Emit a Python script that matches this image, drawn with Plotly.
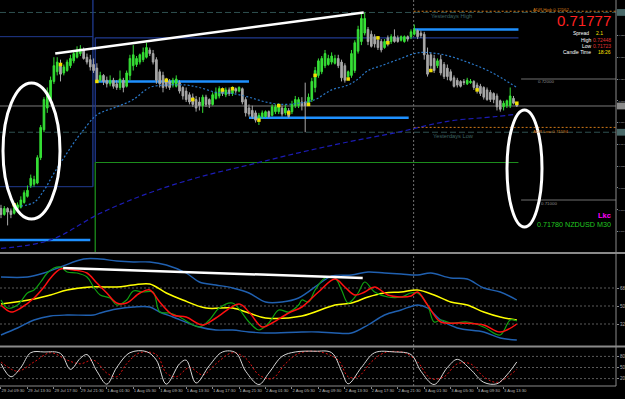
import plotly.graph_objects as go

# ---------------- data ----------------
tick_labels = ["29 Jul 09:30", "29 Jul 13:30", "29 Jul 17:30", "29 Jul 21:30", "1 Aug 01:30",
               "1 Aug 05:30", "1 Aug 09:30", "1 Aug 13:30", "1 Aug 17:30", "1 Aug 21:30",
               "2 Aug 01:30", "2 Aug 05:30", "2 Aug 09:30", "2 Aug 13:30", "2 Aug 17:30",
               "2 Aug 21:30", "3 Aug 01:30", "3 Aug 05:30", "3 Aug 09:30", "3 Aug 13:30"]
tick_bars = [0, 8, 16, 24, 32, 40, 48, 56, 64, 72, 80, 88, 96, 104, 112, 120, 128, 136, 144, 152]

opens = [0.7093, 0.7088, 0.7093, 0.7091, 0.7089, 0.7093, 0.7094, 0.7098, 0.7103, 0.7112,
         0.7113, 0.7114, 0.7135, 0.7158, 0.7176, 0.7183, 0.7198, 0.7206, 0.7212, 0.7205,
         0.7207, 0.7211, 0.7215, 0.7218, 0.7221, 0.7224, 0.7218, 0.7216, 0.7212, 0.7209,
         0.7199, 0.7203, 0.7199, 0.7196, 0.7199, 0.7196, 0.7193, 0.7199, 0.7194, 0.7203,
         0.7211, 0.7212, 0.7214, 0.7216, 0.7218, 0.7224, 0.7221, 0.7216, 0.7206, 0.7203,
         0.7199, 0.7198, 0.7195, 0.7194, 0.7197, 0.7193, 0.7190, 0.7187, 0.7185, 0.7183,
         0.7181, 0.7178, 0.7185, 0.7183, 0.7179, 0.7184, 0.7186, 0.7191, 0.7187, 0.7191,
         0.7188, 0.7192, 0.7190, 0.7192, 0.7183, 0.7176, 0.7174, 0.7172, 0.7167, 0.7169,
         0.7169, 0.7173, 0.7170, 0.7173, 0.7173, 0.7176, 0.7172, 0.7174, 0.7173, 0.7178,
         0.7178, 0.7181, 0.7181, 0.7179, 0.7183, 0.7193, 0.7203, 0.7206, 0.7211, 0.7212,
         0.7214, 0.7213, 0.7217, 0.7214, 0.7211, 0.7202, 0.7203, 0.7207, 0.7223, 0.7231,
         0.7238, 0.7241, 0.7237, 0.7235, 0.7232, 0.7231, 0.7226, 0.7234, 0.7231, 0.7235,
         0.7234, 0.7232, 0.7231, 0.7235, 0.7235, 0.7237, 0.7240, 0.7238, 0.7237, 0.7220,
         0.7220, 0.7217, 0.7211, 0.7216, 0.7212, 0.7209, 0.7206, 0.7201, 0.7199, 0.7198,
         0.7198, 0.7196, 0.7197, 0.7198, 0.7195, 0.7194, 0.7193, 0.7191, 0.7189, 0.7188,
         0.7186, 0.7182, 0.7177, 0.7178, 0.7178, 0.7184, 0.7180]
highs = [0.7096, 0.7095, 0.7094, 0.7093, 0.7097, 0.7098, 0.7103, 0.7108, 0.7112, 0.7121,
         0.7120, 0.7137, 0.7162, 0.7185, 0.7193, 0.7202, 0.7218, 0.7218, 0.7216, 0.7212,
         0.7216, 0.7220, 0.7224, 0.7227, 0.7228, 0.7226, 0.7221, 0.7220, 0.7217, 0.7213,
         0.7206, 0.7204, 0.7202, 0.7203, 0.7201, 0.7199, 0.7207, 0.7201, 0.7207, 0.7220,
         0.7228, 0.7219, 0.7221, 0.7226, 0.7230, 0.7226, 0.7224, 0.7218, 0.7208, 0.7206,
         0.7201, 0.7200, 0.7201, 0.7203, 0.7199, 0.7194, 0.7193, 0.7189, 0.7188, 0.7186,
         0.7185, 0.7187, 0.7187, 0.7184, 0.7189, 0.7193, 0.7194, 0.7193, 0.7193, 0.7193,
         0.7194, 0.7193, 0.7194, 0.7193, 0.7185, 0.7179, 0.7178, 0.7174, 0.7172, 0.7174,
         0.7174, 0.7174, 0.7179, 0.7179, 0.7180, 0.7178, 0.7179, 0.7176, 0.7182, 0.7186,
         0.7185, 0.7185, 0.7197, 0.7188, 0.7201, 0.7210, 0.7217, 0.7219, 0.7224, 0.7220,
         0.7222, 0.7220, 0.7220, 0.7216, 0.7213, 0.7207, 0.7224, 0.7232, 0.7244, 0.7254,
         0.7255, 0.7243, 0.7240, 0.7237, 0.7235, 0.7233, 0.7233, 0.7236, 0.7237, 0.7241,
         0.7236, 0.7236, 0.7236, 0.7236, 0.7241, 0.7245, 0.7241, 0.7240, 0.7239, 0.7226,
         0.7222, 0.7220, 0.7217, 0.7220, 0.7214, 0.7212, 0.7208, 0.7203, 0.7201, 0.7199,
         0.7200, 0.7201, 0.7200, 0.7199, 0.7197, 0.7196, 0.7194, 0.7193, 0.7191, 0.7189,
         0.7188, 0.7183, 0.7182, 0.7183, 0.7193, 0.7186, 0.7181]
lows = [0.7085, 0.7087, 0.7079, 0.7085, 0.7088, 0.7091, 0.7093, 0.7097, 0.7102, 0.7110,
        0.7111, 0.7113, 0.7133, 0.7156, 0.7172, 0.7180, 0.7196, 0.7203, 0.7198, 0.7203,
        0.7206, 0.7209, 0.7213, 0.7217, 0.7219, 0.7216, 0.7212, 0.7207, 0.7205, 0.7197,
        0.7198, 0.7195, 0.7193, 0.7194, 0.7192, 0.7191, 0.7191, 0.7189, 0.7193, 0.7199,
        0.7207, 0.7210, 0.7212, 0.7214, 0.7217, 0.7219, 0.7212, 0.7196, 0.7193, 0.7189,
        0.7192, 0.7191, 0.7193, 0.7193, 0.7188, 0.7183, 0.7181, 0.7179, 0.7177, 0.7173,
        0.7174, 0.7172, 0.7177, 0.7176, 0.7178, 0.7183, 0.7184, 0.7186, 0.7185, 0.7186,
        0.7186, 0.7188, 0.7189, 0.7179, 0.7169, 0.7169, 0.7167, 0.7164, 0.7162, 0.7167,
        0.7168, 0.7168, 0.7169, 0.7171, 0.7171, 0.7169, 0.7170, 0.7168, 0.7171, 0.7176,
        0.7176, 0.7174, 0.7156, 0.7178, 0.7181, 0.7189, 0.7201, 0.7204, 0.7209, 0.7211,
        0.7212, 0.7212, 0.7209, 0.7198, 0.7197, 0.7199, 0.7201, 0.7205, 0.7221, 0.7228,
        0.7236, 0.7228, 0.7226, 0.7226, 0.7224, 0.7222, 0.7225, 0.7227, 0.7229, 0.7230,
        0.7230, 0.7231, 0.7230, 0.7231, 0.7233, 0.7236, 0.7233, 0.7234, 0.7216, 0.7202,
        0.7207, 0.7205, 0.7209, 0.7203, 0.7200, 0.7199, 0.7198, 0.7193, 0.7193, 0.7193,
        0.7195, 0.7195, 0.7196, 0.7191, 0.7188, 0.7186, 0.7183, 0.7182, 0.7181, 0.7180,
        0.7174, 0.7173, 0.7174, 0.7176, 0.7176, 0.7179, 0.7177]
closes = [0.7088, 0.7093, 0.7090, 0.7088, 0.7094, 0.7096, 0.7100, 0.7106, 0.7108, 0.7118,
          0.7117, 0.7135, 0.7160, 0.7183, 0.7189, 0.7199, 0.7211, 0.7214, 0.7204, 0.7210,
          0.7214, 0.7217, 0.7221, 0.7224, 0.7225, 0.7217, 0.7214, 0.7210, 0.7207, 0.7199,
          0.7203, 0.7198, 0.7196, 0.7199, 0.7194, 0.7193, 0.7200, 0.7193, 0.7205, 0.7217,
          0.7220, 0.7217, 0.7220, 0.7222, 0.7226, 0.7221, 0.7214, 0.7199, 0.7196, 0.7193,
          0.7194, 0.7193, 0.7199, 0.7200, 0.7190, 0.7186, 0.7183, 0.7181, 0.7179, 0.7176,
          0.7178, 0.7185, 0.7179, 0.7179, 0.7187, 0.7189, 0.7192, 0.7188, 0.7191, 0.7188,
          0.7192, 0.7190, 0.7193, 0.7181, 0.7172, 0.7171, 0.7169, 0.7166, 0.7170, 0.7172,
          0.7173, 0.7169, 0.7177, 0.7177, 0.7177, 0.7171, 0.7176, 0.7169, 0.7179, 0.7183,
          0.7183, 0.7178, 0.7178, 0.7185, 0.7198, 0.7207, 0.7215, 0.7217, 0.7221, 0.7217,
          0.7219, 0.7217, 0.7211, 0.7201, 0.7199, 0.7206, 0.7221, 0.7230, 0.7241, 0.7250,
          0.7250, 0.7231, 0.7227, 0.7229, 0.7226, 0.7224, 0.7231, 0.7229, 0.7235, 0.7231,
          0.7231, 0.7235, 0.7235, 0.7233, 0.7239, 0.7241, 0.7235, 0.7236, 0.7220, 0.7204,
          0.7211, 0.7207, 0.7215, 0.7205, 0.7202, 0.7202, 0.7199, 0.7194, 0.7195, 0.7194,
          0.7197, 0.7199, 0.7198, 0.7193, 0.7191, 0.7188, 0.7185, 0.7183, 0.7183, 0.7183,
          0.7177, 0.7175, 0.7180, 0.7182, 0.7186, 0.7180, 0.71777]

fractal_bars = [4, 18, 29, 50, 58, 67, 70, 78, 84, 87, 93, 95, 105, 114, 117, 130, 144, 156]
fractal_prices = [0.7096, 0.7212, 0.7198, 0.7199, 0.7183, 0.7191, 0.7192, 0.7166, 0.7178, 0.7172,
                  0.7179, 0.7203, 0.7200, 0.7234, 0.7230, 0.7207, 0.7191, 0.7180]

ma_fast_bars = [6, 10, 13, 16, 20, 23, 25, 28, 30, 35, 40, 45, 50, 56, 60, 65, 70, 75, 80, 85,
                90, 95, 100, 105, 108, 111, 115, 120, 125, 128, 134, 141, 148, 156]
ma_fast = [0.7095, 0.7098, 0.7108, 0.7122, 0.7139, 0.7151, 0.7158, 0.7168, 0.7172, 0.7177,
           0.7183, 0.7193, 0.7195, 0.7195, 0.7193, 0.7189, 0.7188, 0.7185, 0.7181, 0.7179,
           0.7180, 0.7183, 0.7191, 0.7195, 0.7200, 0.7207, 0.7211, 0.7216, 0.7221, 0.7222,
           0.7220, 0.7214, 0.7206, 0.7193]
ma_slow_bars = [0, 15, 30, 45, 60, 75, 90, 105, 120, 135, 150, 156]
ma_slow = [0.7060, 0.7067, 0.7089, 0.7106, 0.7119, 0.7129, 0.7139, 0.7148, 0.7156, 0.7165, 0.7169, 0.7171]

# support / resistance segments (start bar, end bar, price)
sr_start = [-0.3, 28.8, 75.0, 124.8]
sr_end = [27.0, 75.0, 123.3, 156.5]
sr_price = [0.7067, 0.7198, 0.7168, 0.7241]

prev_box_high, prev_box_low = 0.7235, 0.7111
range_high, range_low = 0.7234, 0.7131
bid_price = 0.71777
yest_high, yest_low = 0.7255, 0.7156
adr_high, adr_low = 0.7256, 0.7160
round_levels = [0.7200, 0.7100]
day_start_bar = 124.8
week_start_bar = 28.5
prev_end_bar = 27.8

trend_main_bars = [16.4, 109.7]
trend_main_prices = [0.7221, 0.7255]

tdi_up_bars = [0, 8, 13, 18, 25, 30, 35, 40, 45, 50, 56, 60, 65, 70, 75, 80, 85, 90, 97, 100,
               106, 111, 116, 121, 126, 130, 136, 141, 146, 151, 156]
tdi_up = [79, 79, 83, 89, 97, 97, 95, 94, 94, 91, 83, 74, 71, 68, 63, 54, 54, 58, 74, 80,
          81, 84, 83, 82, 81, 83, 78, 77, 68, 64, 56]
tdi_lo_bars = [0, 5, 10, 15, 20, 28, 30, 35, 40, 45, 48, 52, 60, 65, 70, 75, 80, 91, 96, 101,
               106, 111, 116, 121, 126, 129, 133, 138, 146, 151, 156]
tdi_lo = [21, 28, 36, 40, 41, 41, 43, 47, 49, 49, 44, 39, 29, 26, 26, 24, 23, 24, 24, 23,
          23, 31, 41, 46, 51, 48, 36, 28, 24, 18, 16]
tdi_base_bars = [0, 10, 15, 20, 27, 35, 40, 45, 50, 55, 62, 70, 75, 80, 91, 101, 106, 111, 116,
                 121, 126, 131, 136, 141, 146, 151, 156]
tdi_base = [52, 57, 61, 66, 69, 69, 71, 72, 63, 56, 48, 48, 43, 38, 40, 51, 53, 59, 63,
            64, 66, 61, 54, 51, 44, 39, 36]
tdi_sig_bars = [0, 3, 6, 10, 13, 15, 18, 22, 26, 29, 32, 35, 38, 42, 45, 48, 52, 56, 61, 65,
                72, 75, 79, 82, 87, 91, 96, 101, 104, 107, 110, 113, 117, 121, 124, 126, 129,
                133, 139, 146, 151, 156]
tdi_sig = [51, 44, 48, 58, 69, 78, 87, 86, 83, 73, 63, 53, 53, 63, 66, 54, 41, 39, 31, 38,
           52, 44, 29, 33, 43, 49, 64, 77, 69, 61, 64, 69, 61, 59, 60, 64, 51,
           34, 33, 31, 24, 32]
tdi_rsi_bars = [0, 2, 5, 8, 10, 12, 14, 16, 18, 20, 23, 26, 28, 30, 33, 35, 38, 40, 43, 46,
                48, 51, 54, 60, 63, 66, 70, 75, 78, 81, 84, 87, 90, 91, 93, 95, 98, 101, 103,
                105, 108, 110, 113, 117, 121, 124, 126, 129, 131, 133, 136, 141, 146, 151, 154, 156]
tdi_rsi = [56, 48, 51, 63, 66, 74, 83, 88, 89, 84, 83, 79, 69, 61, 58, 51, 56, 65, 64, 64,
           44, 43, 39, 29, 36, 48, 53, 34, 26, 33, 46, 44, 51, 56, 54, 66, 78, 78, 66,
           53, 63, 74, 64, 59, 59, 63, 63, 51, 34, 36, 33, 34, 29, 21, 36, 35]
tdi_levels = [68, 50, 32]
tdi_trend_bars = [18.8, 109.4]
tdi_trend_vals = [88, 78]

stoch_bars = [0, 3, 6, 9, 13, 18, 21, 24, 26, 29, 32, 35, 39, 44, 47, 50, 54, 56, 59, 63,
              67, 71, 74, 78, 81, 85, 89, 95, 100, 103, 105, 109, 113, 119, 124, 127, 131, 135,
              138, 142, 146, 150, 153, 156]
stoch_main = [60, 25, 50, 90, 92, 88, 45, 75, 85, 40, 5, 50, 90, 93, 70, 5, 60, 70, 8, 55,
              92, 90, 40, 4, 35, 80, 92, 94, 90, 40, 6, 50, 90, 92, 85, 40, 4, 50,
              72, 45, 10, 6, 30, 65]
stoch_sig_bars = [0, 5, 10, 15, 20, 24, 28, 32, 35, 38, 42, 47, 50, 53, 57, 61, 65, 70, 74, 78,
                  82, 86, 90, 96, 102, 105, 108, 112, 116, 122, 126, 130, 134, 138, 142, 146, 150, 156]
stoch_sig = [65, 40, 65, 90, 70, 60, 70, 35, 25, 60, 90, 85, 35, 25, 50, 30, 60, 90, 75, 30,
             20, 60, 88, 93, 70, 25, 25, 65, 90, 90, 65, 20, 25, 60, 60, 25, 10, 45]
stoch_levels = [80, 50, 20]

# ---------------- geometry helpers (pixels -> paper) ----------------
W, H = 625, 399
MR, MB = 9, 13
PW, PH = W - MR, H - MB


def pxx(x):
    return x / PW


def pxy(y):
    return 1 - y / PH


fig = go.Figure()

# candles
fig.add_trace(go.Candlestick(
    x=list(range(len(opens))), open=opens, high=highs, low=lows, close=closes,
    increasing=dict(line=dict(color="#36e036", width=1), fillcolor="#36e036"),
    decreasing=dict(line=dict(color="#a8a8a8", width=1), fillcolor="#a8a8a8"),
    whiskerwidth=0, hoverinfo="skip", showlegend=False, yaxis="y"))

# moving averages
fig.add_trace(go.Scatter(x=ma_fast_bars, y=ma_fast, mode="lines", yaxis="y",
                         line=dict(color="#2a78c8", width=1.2, dash="2px,2px", shape="spline"),
                         hoverinfo="skip", showlegend=False))
fig.add_trace(go.Scatter(x=ma_slow_bars, y=ma_slow, mode="lines", yaxis="y",
                         line=dict(color="#1c1cb4", width=1.2, dash="5px,3px", shape="spline"),
                         hoverinfo="skip", showlegend=False))

# fractal dots
fig.add_trace(go.Scatter(x=fractal_bars, y=fractal_prices, mode="markers", yaxis="y",
                         marker=dict(symbol="square", size=3.5, color="#f0e000",
                                     line=dict(width=0)),
                         hoverinfo="skip", showlegend=False))

# trend line main
fig.add_trace(go.Scatter(x=trend_main_bars, y=trend_main_prices, mode="lines", yaxis="y",
                         line=dict(color="white", width=2.5), hoverinfo="skip", showlegend=False))

# TDI
fig.add_trace(go.Scatter(x=tdi_up_bars, y=tdi_up, mode="lines", yaxis="y2",
                         line=dict(color="#2060b0", width=1.4, shape="spline"),
                         hoverinfo="skip", showlegend=False))
fig.add_trace(go.Scatter(x=tdi_lo_bars, y=tdi_lo, mode="lines", yaxis="y2",
                         line=dict(color="#2060b0", width=1.4, shape="spline"),
                         hoverinfo="skip", showlegend=False))
fig.add_trace(go.Scatter(x=tdi_base_bars, y=tdi_base, mode="lines", yaxis="y2",
                         line=dict(color="#ffff00", width=1.5, shape="spline"),
                         hoverinfo="skip", showlegend=False))
fig.add_trace(go.Scatter(x=tdi_rsi_bars, y=tdi_rsi, mode="lines", yaxis="y2",
                         line=dict(color="#10a010", width=1.2, shape="spline"),
                         hoverinfo="skip", showlegend=False))
fig.add_trace(go.Scatter(x=tdi_sig_bars, y=tdi_sig, mode="lines", yaxis="y2",
                         line=dict(color="#ff1010", width=1.5, shape="spline"),
                         hoverinfo="skip", showlegend=False))
fig.add_trace(go.Scatter(x=tdi_trend_bars, y=tdi_trend_vals, mode="lines", yaxis="y2",
                         line=dict(color="white", width=2.5), hoverinfo="skip", showlegend=False))

# Stochastic
fig.add_trace(go.Scatter(x=stoch_sig_bars, y=stoch_sig, mode="lines", yaxis="y3",
                         line=dict(color="#e01010", width=1, dash="2px,2px", shape="spline"),
                         hoverinfo="skip", showlegend=False))
fig.add_trace(go.Scatter(x=stoch_bars, y=stoch_main, mode="lines", yaxis="y3",
                         line=dict(color="#d8d8d8", width=1, shape="spline"),
                         hoverinfo="skip", showlegend=False))

shapes = []


def seg(x0, x1, y0, y1, color, width, dash="solid", xref="x", yref="y", layer="below"):
    shapes.append(dict(type="line", xref=xref, yref=yref, x0=x0, x1=x1, y0=y0, y1=y1,
                       line=dict(color=color, width=width, dash=dash), layer=layer))


# full width reference lines
seg(0, 1, yest_high, yest_high, "#2f5050", 1, "6px,3px", xref="paper")
seg(0, 1, yest_low, yest_low, "#2f5050", 1, "6px,3px", xref="paper")
seg(0, 1, bid_price, bid_price, "#7a7a7a", 1, xref="paper")
# ADR lines
seg(day_start_bar, 186, adr_high, adr_high, "#d07818", 1, "2px,2px")
seg(day_start_bar, 186, adr_low, adr_low, "#d07818", 1, "2px,2px")
# round level markers at right
for lv in round_levels:
    seg(157.3, 186, lv, lv, "#707070", 1)
# previous day box (navy)
seg(-0.3, prev_end_bar, prev_box_high, prev_box_high, "#203a90", 1)
seg(-0.3, prev_end_bar, prev_box_low, prev_box_low, "#203a90", 1)
seg(prev_end_bar, prev_end_bar, 0.7266, prev_box_low, "#203a90", 1.3)
# current range (navy top, green bottom)
seg(week_start_bar, 156.5, range_high, range_high, "#203a90", 1.2)
seg(week_start_bar, week_start_bar, range_high, range_low, "#203a90", 1.3)
seg(week_start_bar, 156.5, range_low, range_low, "#1c8c1c", 1.2)
seg(week_start_bar, week_start_bar, range_low, 0.7057, "#1c8c1c", 1.3)
# support / resistance segments
for s, e, p in zip(sr_start, sr_end, sr_price):
    seg(s, e, p, p, "#1e90ff", 2.5)
# TDI levels
for lv in tdi_levels:
    seg(0, 1, lv, lv, "#5a5a5a", 1, "2px,2px", xref="paper", yref="y2")
for lv in stoch_levels:
    seg(0, 1, lv, lv, "#5a5a5a", 1, "2px,2px", xref="paper", yref="y3")
# day separator
seg(day_start_bar, day_start_bar, 0, 1, "#707070", 1, "2px,2px", yref="paper")

# panel separators and frame
for yy in (253, 346.5):
    shapes.append(dict(type="line", xref="paper", yref="paper", x0=0, x1=W / PW,
                       y0=pxy(yy), y1=pxy(yy), line=dict(color="#8a8a8a", width=2), layer="above"))
shapes.append(dict(type="line", xref="paper", yref="paper", x0=1, x1=1, y0=0, y1=1,
                   line=dict(color="#8a8a8a", width=1), layer="above"))
shapes.append(dict(type="line", xref="paper", yref="paper", x0=0, x1=1, y0=0, y1=0,
                   line=dict(color="#8a8a8a", width=1), layer="above"))

# axis value boxes
for price, col in ((bid_price, "#8a8a8a"), (yest_high, "#4a6a6a"), (yest_low, "#4a6a6a")):
    shapes.append(dict(type="rect", xref="paper", yref="y", x0=1.0015, x1=W / PW,
                       y0=price - 0.00028, y1=price + 0.00028, fillcolor=col,
                       line=dict(width=0), layer="above"))

# ellipses
shapes.append(dict(type="circle", xref="paper", yref="paper", x0=pxx(3), x1=pxx(60),
                   y0=pxy(219), y1=pxy(83), line=dict(color="white", width=3), layer="above"))
shapes.append(dict(type="circle", xref="paper", yref="paper", x0=pxx(507), x1=pxx(542),
                   y0=pxy(227), y1=pxy(110), line=dict(color="white", width=3), layer="above"))

fig.update_layout(shapes=shapes)


def label(text, x, y, size, color, anchor="left", yanchor="middle", family="Liberation Sans"):
    fig.add_annotation(text=text, x=pxx(x), y=pxy(y), xref="paper", yref="paper",
                       xanchor=anchor, yanchor=yanchor, showarrow=False, borderpad=0,
                       font=dict(size=size, color=color, family=family))


label("Yesterdays High", 430, 16, 5.7, "#3f6262")
label("Yesterdays Low", 432, 136, 5.7, "#3f6262")
label("ADR High 0.72562", 532, 9.3, 4.3, "#d07818")
label("ADR Low 0.71594", 532, 131, 4.3, "#d07818")
label("0.72000", 537, 82, 4.4, "#909090")
label("0.71000", 540, 203, 4.4, "#909090")
label("0.71777", 612, 21, 15, "#ff2020", anchor="right")
label("Spread", 590, 33.2, 5, "#ffffff", anchor="right")
label("2.1", 604, 33.2, 5, "#ffe000", anchor="right")
label("High", 593, 39.5, 5, "#ffffff", anchor="right")
label("0.72448", 612, 39.5, 5, "#e03030", anchor="right")
label("Low", 593, 45.8, 5, "#ffffff", anchor="right")
label("0.71723", 612, 45.8, 5, "#e03030", anchor="right")
label("Candle Time", 592, 52.1, 5, "#ffffff", anchor="right")
label("18:26", 612, 52.1, 5, "#ffe000", anchor="right")
label("<b>Lkc</b>", 612, 215, 7.5, "#ff00ff", anchor="right")
label("0.71780 NZDUSD M30", 612, 225, 7.2, "#20c820", anchor="right")

axis_font = dict(size=4.5, color="#b0b0b0", family="Liberation Sans")
fig.update_layout(
    width=W, height=H, margin=dict(l=0, r=MR, t=0, b=MB, pad=0, autoexpand=False),
    paper_bgcolor="black", plot_bgcolor="black", showlegend=False,
    xaxis=dict(domain=[0, 1], range=[-0.3, 186.0], anchor="y3", showgrid=False, zeroline=False,
               tickvals=tick_bars, ticktext=tick_labels, ticklabelposition="outside right",
               tickangle=0, automargin=False,
               tickfont=dict(size=4.2, color="#b8b8b8", family="Liberation Sans"),
               ticks="outside", ticklen=2, tickcolor="#8a8a8a",
               rangeslider=dict(visible=False), showline=False),
    yaxis=dict(domain=[134 / PH, 1], range=[0.705702, 0.72653], side="right", anchor="x",
               showgrid=False, zeroline=False, tickformat=".4f", dtick=0.0018, tick0=0.72,
               automargin=False,
               tickfont=dict(size=2.4, color="#b0b0b0", family="Liberation Sans"),
               ticks="outside", ticklen=1, tickcolor="#8a8a8a"),
    yaxis2=dict(domain=[40 / PH, 132 / PH], range=[10, 102], side="right", anchor="x",
                showgrid=False, zeroline=False, tickvals=tdi_levels, tickfont=axis_font,
                automargin=False, ticks="outside", ticklen=2, tickcolor="#8a8a8a"),
    yaxis3=dict(domain=[0, 39 / PH], range=[0, 105.4], side="right", anchor="x",
                showgrid=False, zeroline=False, tickvals=stoch_levels, tickfont=axis_font,
                automargin=False, ticks="outside", ticklen=2, tickcolor="#8a8a8a"),
)

fig.write_html("out.html")
